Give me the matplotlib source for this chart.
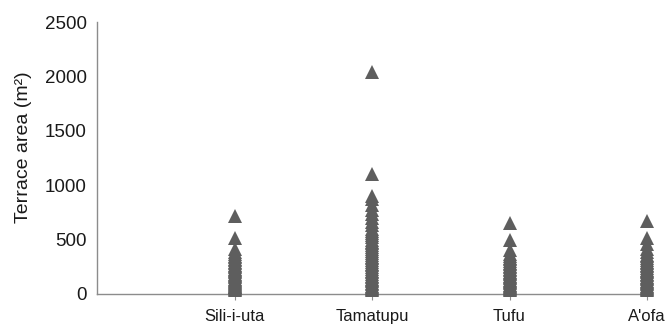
import matplotlib
matplotlib.use("Agg")
import matplotlib.pyplot as plt

plt.rcParams['font.family'] = ['Liberation Sans', 'DejaVu Sans']

categories = ["Sili-i-uta", "Tamatupu", "Tufu", "A'ofa"]

sili_i_uta = [717, 515, 414, 382, 366, 351, 338, 322, 309, 296, 281, 270, 258,
              244, 233, 221, 210, 198, 187, 176, 165, 154, 142, 131, 120, 110,
              101, 92, 84, 76, 68, 61, 54, 47, 40]
tamatupu = [2040, 1105, 905, 870, 820, 770, 735, 700, 665, 630, 600, 580, 560,
            540, 520, 500, 482, 465, 447, 430, 412, 395, 378, 360, 343, 327,
            310, 294, 278, 262, 246, 230, 215, 200, 185, 170, 156, 142, 128,
            115, 102, 90, 78, 66, 55, 44, 34]
tufu = [650, 495, 400, 368, 350, 333, 318, 302, 288, 273, 259, 246, 232, 219,
        205, 192, 180, 167, 155, 143, 131, 119, 108, 97, 86, 76, 66, 56, 46, 37]
aofa = [668, 515, 455, 410, 382, 362, 345, 328, 312, 297, 282, 268, 253, 239,
        225, 212, 198, 185, 172, 160, 147, 135, 123, 111, 100, 89, 78, 68, 58,
        48, 38]

series = [sili_i_uta, tamatupu, tufu, aofa]
y_ticks = [0, 500, 1000, 1500, 2000, 2500]

fig = plt.figure(figsize=(6.7, 3.24), dpi=100)
ax = fig.add_axes([0.1448, 0.0926, 0.8209, 0.8394])

marker_color = '#5e5e5e'
for i, vals in enumerate(series):
    ax.plot([i + 1] * len(vals), vals, linestyle='none', marker='^',
            markersize=10.3, color=marker_color, markeredgewidth=0,
            clip_on=False, zorder=3)

ax.set_xlim(0, 4)
ax.set_ylim(0, 2500)
ax.set_yticks(y_ticks)
ax.set_yticklabels([str(v) for v in y_ticks])
ax.set_xticks(range(1, len(categories) + 1))
ax.set_xticklabels(categories)

for s in ['top', 'right']:
    ax.spines[s].set_visible(False)
for s in ['left', 'bottom']:
    ax.spines[s].set_color('#8c8c8c')
    ax.spines[s].set_linewidth(1.0)

ax.tick_params(axis='y', length=0, pad=7.5, labelsize=13.5, labelcolor='#1a1a1a')
ax.tick_params(axis='x', length=4, direction='out', color='#8c8c8c', pad=7,
               labelsize=12, labelcolor='#1a1a1a')

ax.set_ylabel('Terrace area (m²)', fontsize=14, color='#1a1a1a')
ax.yaxis.set_label_coords(-0.118, 0.54)

fig.savefig('out.png', dpi=100)
